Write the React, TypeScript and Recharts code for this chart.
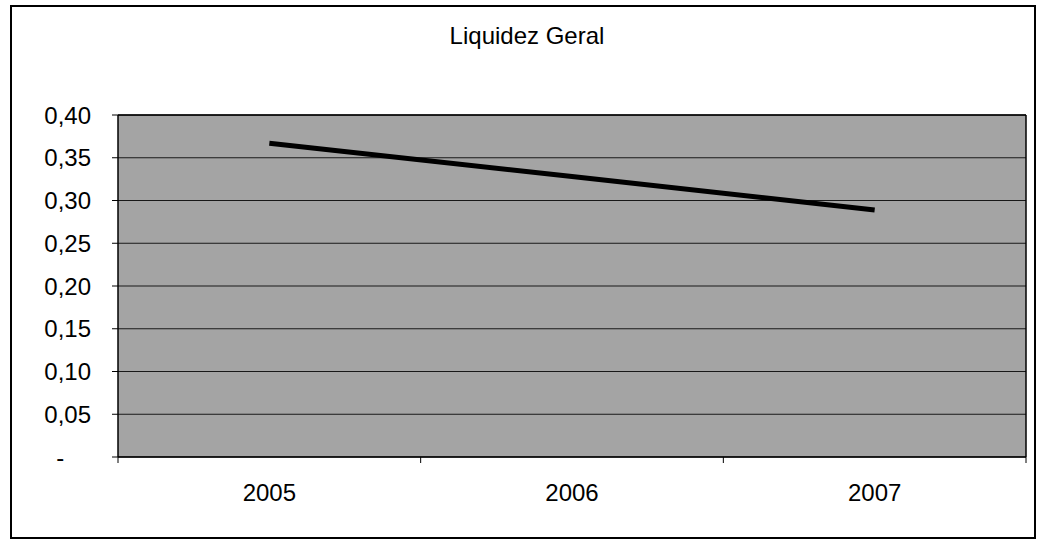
import { LineChart, Line, XAxis, YAxis, CartesianGrid, ReferenceLine } from 'recharts'

const title = 'Liquidez Geral'
const categories = ['2005', '2006', '2007']
const liquidez = [0.367, 0.328, 0.289]
const yTicks = [0, 0.05, 0.1, 0.15, 0.2, 0.25, 0.3, 0.35, 0.4]

// category i sits in the middle of band [i, i+1], ticks at band edges
const data = categories.map((name, i) => ({ x: i + 0.5, name, value: liquidez[i] }))
const xTicks = [
  ...categories.map((_, i) => i),
  categories.length,
  ...categories.map((_, i) => i + 0.5),
].sort((a, b) => a - b)

const font = '"Liberation Sans", Arial, sans-serif'

const fmtY = (v: number) =>
  v === 0 ? '-\u00a0\u00a0\u00a0\u00a0' : v.toFixed(2).replace('.', ',')

function XTick(props: any) {
  const { x, y, payload } = props
  const v = payload.value as number
  const axisY = y - 27
  if (Number.isInteger(v)) {
    return <line x1={x} x2={x} y1={axisY} y2={axisY + 6} stroke="#000" strokeWidth={1} />
  }
  return (
    <text x={x} y={y} dy="0.71em" textAnchor="middle" fill="#000" fontSize={24} fontFamily={font}>
      {categories[Math.floor(v)]}
    </text>
  )
}

export default function App() {
  return (
    <div style={{ position: 'absolute', left: 0, top: 0, width: 1041, height: 540, background: '#fff' }}>
      <div
        style={{
          position: 'absolute', left: 10, top: 5, width: 1022, height: 530,
          border: '2px solid #000',
        }}
      />
      <div
        style={{
          position: 'absolute', left: 0, top: 24, width: 1054, textAlign: 'center',
          fontFamily: font, fontSize: 24, lineHeight: '24px', color: '#000',
        }}
      >
        {title}
      </div>
      <div style={{ position: 'absolute', left: 0, top: 0 }}>
        <LineChart width={1041} height={540} data={data} margin={{ top: 115, right: 15, bottom: 0, left: 0 }}>
          <CartesianGrid
            vertical={false}
            stroke="#000"
            strokeOpacity={0.85}
            fill="#a4a4a4"
            fillOpacity={1}
          />
          <XAxis
            dataKey="x"
            type="number"
            domain={[0, categories.length]}
            ticks={xTicks}
            interval={0}
            height={83}
            tickSize={6}
            tickMargin={21}
            tickLine={false}
            axisLine={{ stroke: '#000', strokeWidth: 1.5 }}
            tick={<XTick />}
          />
          <YAxis
            type="number"
            domain={[0, 0.4]}
            ticks={yTicks}
            interval={0}
            width={118}
            tickSize={6}
            tickMargin={21}
            tickFormatter={fmtY}
            tick={{ fill: '#000', fontSize: 24, fontFamily: font }}
            tickLine={{ stroke: '#000' }}
            axisLine={{ stroke: '#000', strokeWidth: 1.5 }}
          />
          <ReferenceLine x={categories.length} stroke="#000" strokeWidth={1.5} />
          <ReferenceLine y={0.4} stroke="#000" strokeWidth={1.5} />
          <Line
            type="linear"
            dataKey="value"
            stroke="#000"
            strokeWidth={5}
            dot={false}
            isAnimationActive={false}
          />
        </LineChart>
      </div>
    </div>
  )
}
